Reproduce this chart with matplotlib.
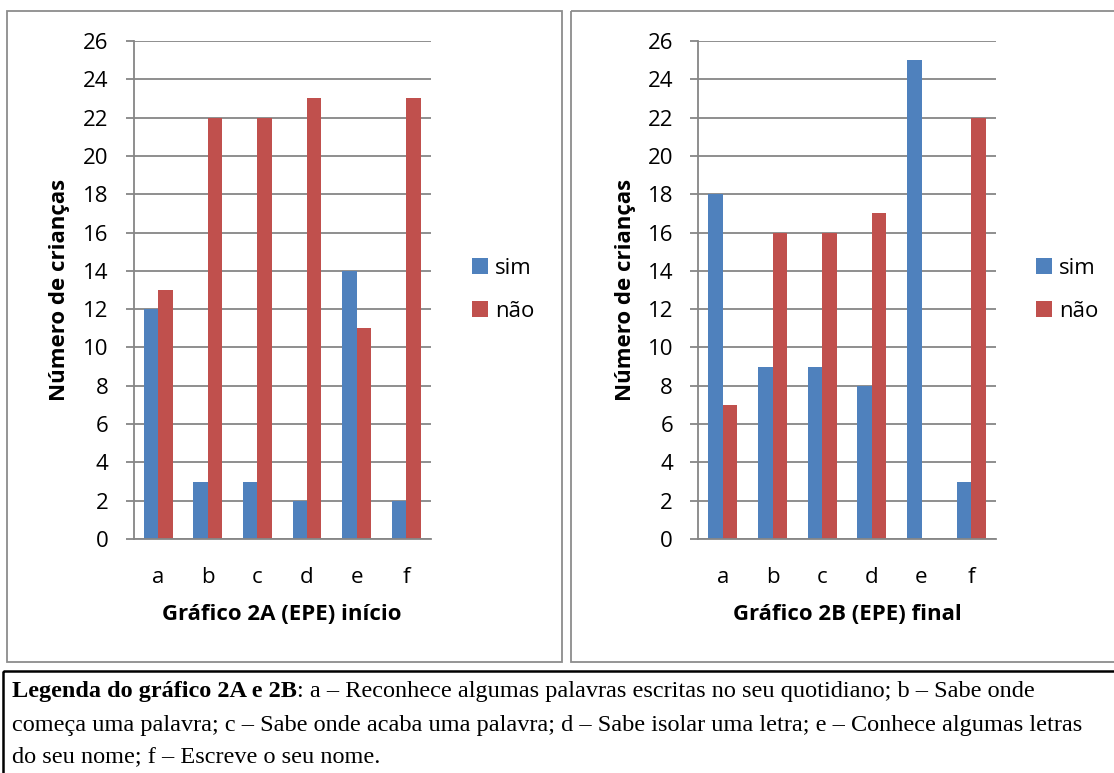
import matplotlib
matplotlib.use("Agg")
import matplotlib.pyplot as plt
from matplotlib.patches import Rectangle
import numpy as np

categories = ["a", "b", "c", "d", "e", "f"]
sim_inicio = [12, 3, 3, 2, 14, 2]
nao_inicio = [13, 22, 22, 23, 11, 23]
sim_final = [18, 9, 9, 8, 25, 3]
nao_final = [7, 16, 16, 17, 0, 22]
y_ticks = list(range(0, 27, 2))
titles = ["Gráfico 2A (EPE) início", "Gráfico 2B (EPE) final"]
y_title = "Número de crianças"
series_names = ["sim", "não"]
caption_bold = "Legenda do gráfico 2A e 2B"
caption_lines = [
    ": a – Reconhece algumas palavras escritas no seu quotidiano; b – Sabe onde",
    "começa uma palavra; c – Sabe onde acaba uma palavra; d – Sabe isolar uma letra; e – Conhece algumas letras",
    "do seu nome; f – Escreve o seu nome.",
]

BLUE = "#4F81BD"
RED = "#C0504D"
GRID = "#868686"
W, H = 1114, 773
SANS = "Open Sans"
SERIF = "Liberation Serif"

fig = plt.figure(figsize=(W / 100, H / 100), dpi=100)
fig.patch.set_facecolor("white")

# full-figure overlay in pixel coordinates for frames and free text
overlay = fig.add_axes([0, 0, 1, 1])
overlay.set_xlim(0, W)
overlay.set_ylim(H, 0)
overlay.axis("off")
overlay.add_patch(Rectangle((7, 11), 555, 651, fill=False, edgecolor="#8c8c8c", lw=1.3))
overlay.add_patch(Rectangle((571, 11), 560, 651, fill=False, edgecolor="#8c8c8c", lw=1.3))
overlay.add_patch(Rectangle((3, 671), 1130, 120, fill=False, edgecolor="black", lw=1.8))


def px_axes(x0, y0, x1, y1):
    return fig.add_axes([x0 / W, 1 - y1 / H, (x1 - x0) / W, (y1 - y0) / H])


def draw_panel(x0, x1, sim, nao, title, ylabel_x, legend_x):
    ax = px_axes(x0, 41, x1, 539)
    x = np.arange(len(categories))
    bw = 0.29
    ax.bar(x - bw / 2, sim, bw, color=BLUE, label=series_names[0], zorder=3)
    ax.bar(x + bw / 2, nao, bw, color=RED, label=series_names[1], zorder=3)
    ax.set_xlim(-0.5, len(categories) - 0.5)
    ax.set_ylim(0, 26)
    ax.set_yticks(y_ticks)
    ax.set_xticks(x)
    ax.set_xticklabels(categories)
    ax.grid(axis="y", color=GRID, lw=1.3, zorder=0)
    for s in ["top", "right", "bottom"]:
        ax.spines[s].set_visible(False)
    ax.spines["left"].set_color(GRID)
    ax.spines["left"].set_linewidth(1.3)
    ax.axhline(0, color=GRID, lw=1.3, zorder=4, clip_on=False)
    ax.tick_params(axis="y", length=6, width=1.3, color=GRID, pad=12, labelsize=16)
    ax.tick_params(axis="x", length=0, pad=20, labelsize=16)
    for lbl in ax.get_xticklabels() + ax.get_yticklabels():
        lbl.set_family(SANS)
    overlay.text(ylabel_x, 290, y_title, family=SANS, fontsize=16, fontweight="bold",
                 rotation=90, ha="center", va="center")
    overlay.text((x0 + x1) / 2, 614, title, family=SANS, fontsize=16, fontweight="bold",
                 ha="center", va="center")
    ax.legend(loc="center left", bbox_to_anchor=((legend_x - x0) / (x1 - x0), 0.5),
              frameon=False, prop={"family": SANS, "size": 16},
              handlelength=0.72, handleheight=0.72, handletextpad=0.3,
              labelspacing=1.0, borderaxespad=0, borderpad=0)
    return ax


draw_panel(133.5, 431, sim_inicio, nao_inicio, titles[0], 60, 472)
draw_panel(698, 996, sim_final, nao_final, titles[1], 625, 1036)

# caption box text
line_y = [692, 725, 757]
fs = 17.5
t = overlay.text(12, line_y[0], caption_bold, family=SERIF, fontsize=fs,
                 fontweight="bold", va="center", ha="left")
fig.canvas.draw()
bb = t.get_window_extent().transformed(overlay.transData.inverted())
overlay.text(max(bb.x0, bb.x1), line_y[0], caption_lines[0], family=SERIF, fontsize=fs,
             va="center", ha="left")
for txt, yy in zip(caption_lines[1:], line_y[1:]):
    overlay.text(12, yy, txt, family=SERIF, fontsize=fs, va="center", ha="left")

fig.savefig("out.png", dpi=100, facecolor="white")
